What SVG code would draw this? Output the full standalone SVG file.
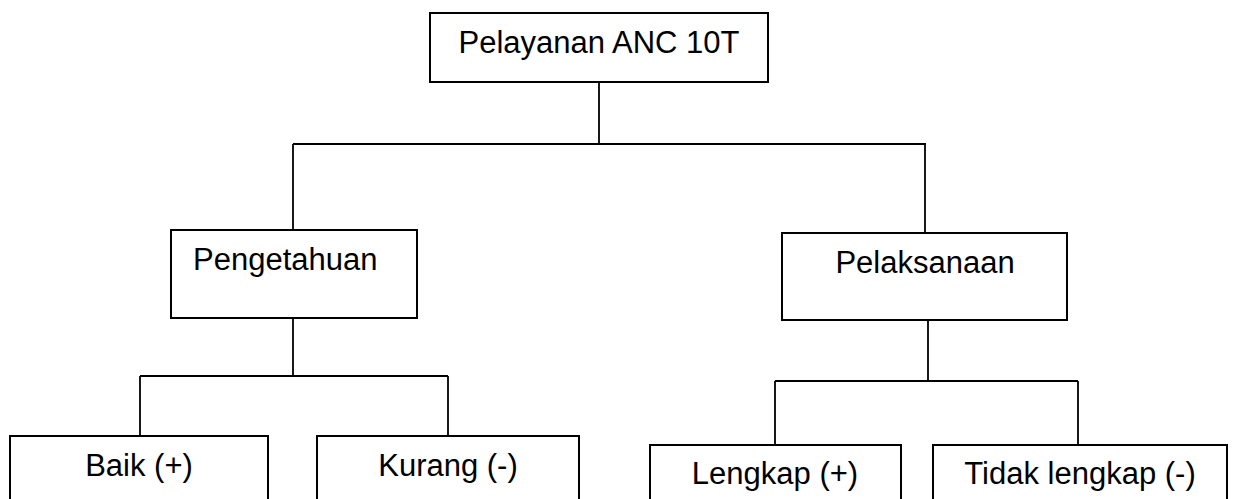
<svg xmlns="http://www.w3.org/2000/svg" width="1233" height="499" viewBox="0 0 1233 499">
<style>
.box{fill:#fff;stroke:#000;stroke-width:2}
.ln{fill:none;stroke:#000;stroke-width:1.8}
.t{font-family:"Liberation Sans",Arial,sans-serif;font-size:31px;fill:#000}
.c{text-anchor:middle}
</style>
<rect width="1233" height="499" fill="#fff"/>
<g id="connectors" class="ln">
<path d="M599,82V144M293,144H926M293,144V230M925,144V233"/>
<path d="M293,318V376M140,376H448M140,376V436M448,376V436"/>
<path d="M928,320V381M775,381H1078M775,381V445M1078,381V445"/>
</g>
<g id="n-root"><rect class="box" x="430" y="13" width="338" height="69"/><text class="t c" x="599" y="53">Pelayanan ANC 10T</text></g>
<g id="n-pengetahuan"><rect class="box" x="171" y="230" width="246" height="88"/><text class="t" x="193" y="270">Pengetahuan</text></g>
<g id="n-pelaksanaan"><rect class="box" x="782" y="233" width="285" height="87"/><text class="t c" x="925" y="273">Pelaksanaan</text></g>
<g id="n-baik"><rect class="box" x="10" y="436" width="258" height="80"/><text class="t c" x="139" y="476">Baik (+)</text></g>
<g id="n-kurang"><rect class="box" x="317" y="436" width="262" height="80"/><text class="t c" x="448" y="476">Kurang (-)</text></g>
<g id="n-lengkap"><rect class="box" x="650" y="445" width="251" height="80"/><text class="t c" x="775" y="484">Lengkap (+)</text></g>
<g id="n-tidak"><rect class="box" x="933" y="445" width="294" height="80"/><text class="t c" x="1080" y="484">Tidak lengkap (-)</text></g>
</svg>
